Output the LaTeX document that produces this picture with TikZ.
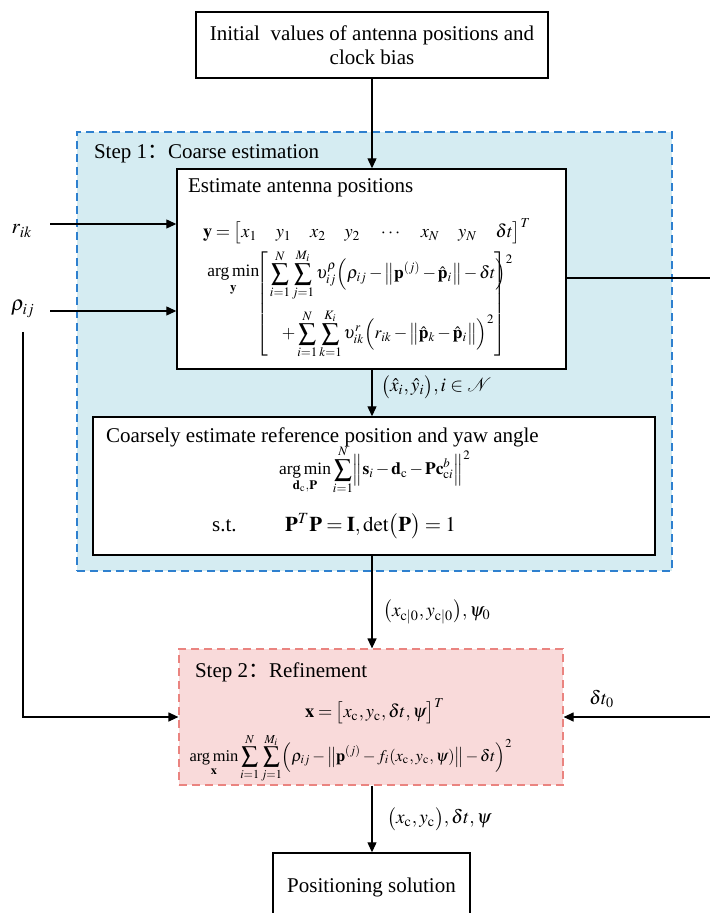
\documentclass[tikz,border=0pt]{standalone}
\usepackage{amsmath,amssymb}
\usepackage{mathptmx}
\usepackage{fontspec}
\setmainfont{Liberation Serif}
\newfontfamily\cjk{Noto Sans CJK SC}
\usetikzlibrary{arrows.meta, positioning, calc}
\definecolor{stepblue}{RGB}{46, 128, 207}
\definecolor{stepcyan}{RGB}{213, 236, 242}
\definecolor{steppink}{RGB}{249, 218, 218}
\definecolor{stepred}{RGB}{234, 132, 128}
\newcommand{\argmin}{\mathop{\text{arg\,min}}}

\tikzset{
    box/.style={draw=black, line width=0.7pt, fill=white, inner sep=0pt},
    stage/.style={dash pattern=on 4pt off 2.5pt, line width=0.6pt, inner sep=0pt},
    flow/.style={-{Triangle[length=5pt,width=4.5pt]}, line width=0.6pt},
    eqn/.style={font=\fontsize{8.7}{10}\selectfont, inner sep=0pt,
        execute at begin node={\medmuskip=2mu\relax\thickmuskip=3.5mu\relax\thinmuskip=2mu\relax}},
    lbl/.style={font=\fontsize{9.6}{11}\selectfont},
}

\begin{document}
\begin{tikzpicture}[x=0.5pt, y=-0.5pt, font=\fontsize{10.5}{12}\selectfont]
    \useasboundingbox (0,0) rectangle (709,913);

    \node[box, minimum width=176pt, minimum height=33pt, align=center] (init) at (372,45)
        {Initial\ \ values of antenna positions and\\clock bias};

    \node[stage, draw=stepblue, fill=stepcyan, minimum width=297.5pt, minimum height=219.5pt] (stepone) at (374.5,351.5) {};
    \node[anchor=west] (steponetitle) at (87,154) {Step 1{\cjk ：}Coarse estimation};

    \node[box, minimum width=194.5pt, minimum height=100pt] (est) at (371.5,269) {};
    \node[anchor=west] (esttitle) at (181,188) {Estimate antenna positions};
    \node[eqn, font=\fontsize{9.2}{11}\selectfont] (esty) at (367,231)
        {$\mathbf{y}=\bigl[x_1\quad y_1\quad x_2\quad y_2\quad \cdots\quad x_N\quad y_N\quad \delta t\bigr]^T$};
    \node[eqn, anchor=base west] (estarg) at (207,277) {$\argmin\limits_{\mathbf y}$};
    \node[eqn, anchor=west] (estsum) at (256,304)
        {$\left[\begin{aligned}
            &\sum_{i=1}^{N}\sum_{j=1}^{M_i}\upsilon_{ij}^{\rho}\Bigl(\rho_{ij}-\bigl\|\mathbf p^{(j)}-\hat{\mathbf p}_i\bigr\|-\delta t\Bigr)^2\hspace{-14pt}\\
            &\hspace{6pt}+\sum_{i=1}^{N}\sum_{k=1}^{K_i}\upsilon_{ik}^{r}\Bigl(r_{ik}-\bigl\|\hat{\mathbf p}_k-\hat{\mathbf p}_i\bigr\|\Bigr)^2
        \end{aligned}\right]$};

    \node[box, minimum width=281pt, minimum height=69pt] (coarse) at (374,486) {};
    \node[anchor=west] (coarsetitle) at (99,437) {Coarsely estimate reference position and yaw angle};
    \node[eqn] (coarsemin) at (375,470)
        {$\displaystyle\argmin_{\mathbf d_{\mathrm c},\mathbf P}\sum_{i=1}^{N}\Bigl\|\mathbf s_i-\mathbf d_{\mathrm c}-\mathbf P\mathbf c_{\mathrm{c}i}^{b}\Bigr\|^2$};
    \node[eqn] (coarsest) at (334,526)
        {\fontsize{10.5}{12}\selectfont s.t.\hspace{2.3em}$\mathbf P^T\mathbf P=\mathbf I,\det\bigl(\mathbf P\bigr)=1$};

    \node[stage, draw=stepred, fill=steppink, minimum width=192pt, minimum height=68pt] (refine) at (371,717) {};
    \node[anchor=west] (refinetitle) at (188,672) {Step 2{\cjk ：}Refinement};
    \node[eqn, font=\fontsize{9.2}{11}\selectfont] (refx) at (375,711) {$\mathbf x=\bigl[x_{\mathrm c},y_{\mathrm c},\delta t,\psi\bigr]^T$};
    \node[eqn, font=\fontsize{8.2}{10}\selectfont] (refmin) at (351,758)
        {$\displaystyle\argmin_{\mathbf x}\sum_{i=1}^{N}\sum_{j=1}^{M_i}\Bigl(\rho_{ij}-\bigl\|\mathbf p^{(j)}-f_i(x_{\mathrm c},y_{\mathrm c},\psi)\bigr\|-\delta t\Bigr)^2$};

    \node[box, minimum width=98.5pt, minimum height=34pt] (final) at (371.5,887) {Positioning solution};

    \node (rik) at (22,231) {$r_{ik}$};
    \coordinate (rikin) at (50,224);
    \node (rhoij) at (23,309) {$\rho_{ij}$};
    \coordinate (rhoin) at (50,311);
    \coordinate (rhodown) at (23,332);
    \coordinate (estout) at (566,278);
    \coordinate (rturn) at (716,717);

    \draw[flow] (init.south) -- (init.south |- est.north);
    \draw[flow] (est.south -| init) -- (coarse.north -| init)
        node[lbl, midway, right, xshift=1pt, yshift=3pt] {$\bigl(\hat x_i,\hat y_i\bigr),i\in\mathcal N$};
    \draw[flow] (coarse.south -| init) -- (refine.north -| init)
        node[lbl, midway, right, xshift=2pt, yshift=-5pt] {$\bigl(x_{\mathrm c|0},y_{\mathrm c|0}\bigr),\psi_0$};
    \draw[flow] (refine.south -| init) -- (final.north -| init)
        node[lbl, midway, right, xshift=4pt] {$\bigl(x_{\mathrm c},y_{\mathrm c}\bigr),\delta t,\psi$};
    \draw[flow] (rikin) -- (rikin -| est.west);
    \draw[flow] (rhoin) -- (rhoin -| est.west);
    \draw[flow] (rhodown) |- (refine.west);
    \draw[flow] (estout) -| (rturn) -- (refine.east)
        node[lbl, pos=0.75, above, yshift=1pt] {$\delta t_0$};
\end{tikzpicture}
\end{document}
